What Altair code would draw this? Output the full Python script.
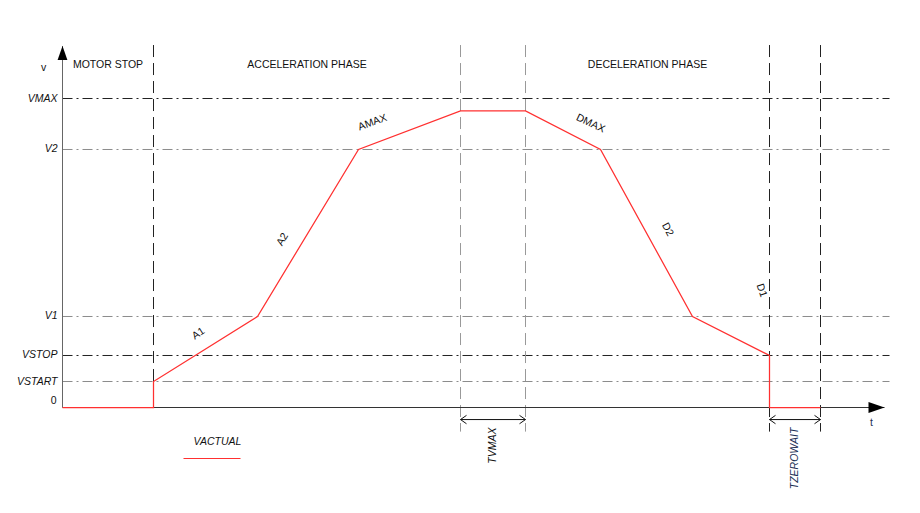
import altair as alt
import pandas as pd

# ---------------- data (time in arbitrary units, velocity in % of VMAX) -------------
level_names = ["VMAX", "V2", "V1", "VSTOP", "VSTART"]
level_values = [100.0, 83.5, 29.45, 16.83, 8.41]
level_colors = ["#222222", "#8c8c8c", "#8c8c8c", "#222222", "#8c8c8c"]

# phase boundaries (vertical dashed lines)
boundary_t = [9.1, 39.8, 46.3, 70.7, 75.8]
boundary_bottom = [0.0, -7.8, -7.8, -7.8, -7.8]
boundary_colors = ["#222222", "#999999", "#999999", "#222222", "#222222"]

# VACTUAL ramp
vactual_t = [0.0, 9.1, 9.1, 19.5, 29.6, 39.8, 46.3, 53.8, 63.0, 70.7, 70.7, 75.8]
vactual_v = [0.0, 0.0, 8.41, 29.45, 83.5, 96.0, 96.0, 83.5, 29.45, 16.83, 0.0, 0.0]

# segment names, their positions and slopes
seg_names = ["A1", "A2", "AMAX", "DMAX", "D2", "D1"]
seg_t = [13.6, 22.0, 31.0, 52.8, 60.5, 69.9]
seg_v = [23.9, 54.4, 92.2, 91.9, 57.6, 37.9]
seg_angle = [327, 300, 340, 25, 62, 72]

phase_names = ["MOTOR STOP", "ACCELERATION PHASE", "DECELERATION PHASE"]
phase_from = [0.0, 9.1, 46.3]
phase_to = [9.1, 39.8, 70.7]
phase_v = 110.7

axis_top = 117.0
axis_end = 82.2
grid_end = 82.7
vline_top = 117.3

span_names = ["TVMAX", "TZEROWAIT"]
span_from = [39.8, 70.7]
span_to = [46.3, 75.8]
span_colors = ["#111111", "#1b2f55"]
span_v = -3.9
span_label_v = -6.5

# ---------------- scales -------------------------------------------------------------
W, H = 904, 497
xs = alt.Scale(domain=[(8 - 62.5) / 10, (912 - 62.5) / 10], nice=False, zero=False)
ys = alt.Scale(domain=[(407.5 - 505) / 3.09, (407.5 - 8) / 3.09], nice=False, zero=False)
FONT = "Liberation Sans Narrow, Arial Narrow, Liberation Sans, Arial"
FS = 10.5


def X(f):
    return alt.X(f, type="quantitative", scale=xs, axis=None)


def Y(f):
    return alt.Y(f, type="quantitative", scale=ys, axis=None)


# ---------------- tables ---------------------------------------------------------------
levels = pd.DataFrame({"name": level_names, "v": level_values, "c": level_colors,
                       "t0": 0.0, "t1": grid_end})
bounds = pd.DataFrame({"t": boundary_t, "v0": vline_top, "v1": boundary_bottom,
                       "c": boundary_colors})
curve = pd.DataFrame({"t": vactual_t, "v": vactual_v, "i": range(len(vactual_t))})
segs = pd.DataFrame({"name": seg_names, "t": seg_t, "v": seg_v, "a": seg_angle})
phases = pd.DataFrame({"name": phase_names,
                       "t": [(a + b) / 2 for a, b in zip(phase_from, phase_to)],
                       "v": phase_v})
spans = pd.DataFrame({"name": span_names, "t0": span_from, "t1": span_to, "c": span_colors,
                      "tm": [(a + b) / 2 for a, b in zip(span_from, span_to)],
                      "v": span_v, "vl": span_label_v})

# ---------------- layers ---------------------------------------------------------------
hlines = alt.Chart(levels).mark_rule(strokeWidth=1, strokeDash=[10, 4, 2, 4]).encode(
    x=X("t0"), x2="t1", y=Y("v"), color=alt.Color("c:N", scale=None))

vlines = alt.Chart(bounds).mark_rule(strokeWidth=1, strokeDash=[12, 6]).encode(
    x=X("t"), y=Y("v0"), y2="v1", color=alt.Color("c:N", scale=None))

yaxis = alt.Chart(pd.DataFrame({"t": [0.0], "v0": [0.0], "v1": [axis_top]})).mark_rule(
    color="#666666", strokeWidth=1).encode(x=X("t"), y=Y("v0"), y2="v1")
xaxis = alt.Chart(pd.DataFrame({"t0": [0.0], "t1": [axis_end], "v": [0.0]})).mark_rule(
    color="#333333", strokeWidth=1).encode(x=X("t0"), x2="t1", y=Y("v"))

yarrow = alt.Chart(pd.DataFrame({"t": [0.0], "v": [axis_top]})).mark_point(
    shape="M0,0L0.7,2L-0.7,2Z", size=196, filled=True, color="#000000", opacity=1,
    strokeWidth=0).encode(x=X("t"), y=Y("v"))
xarrow = alt.Chart(pd.DataFrame({"t": [axis_end], "v": [0.0]})).mark_point(
    shape="M0,0L-2,-0.7L-2,0.7Z", size=256, filled=True, color="#000000", opacity=1,
    strokeWidth=0).encode(x=X("t"), y=Y("v"))

line = alt.Chart(curve).mark_line(color="#ff3030", strokeWidth=1.25).encode(
    x=X("t"), y=Y("v"), order="i:Q")

span_rule = alt.Chart(spans).mark_rule(color="#111111", strokeWidth=1).encode(
    x=X("t0"), x2="t1", y=Y("v"))
span_left = alt.Chart(spans).mark_point(
    shape="M2,-1.4L0,0L2,1.4", size=36, filled=False, color="#111111", opacity=1,
    strokeWidth=1).encode(x=X("t0"), y=Y("v"))
span_right = alt.Chart(spans).mark_point(
    shape="M-2,-1.4L0,0L-2,1.4", size=36, filled=False, color="#111111", opacity=1,
    strokeWidth=1).encode(x=X("t1"), y=Y("v"))
span_text = alt.Chart(spans).mark_text(
    font=FONT, fontSize=FS, fontStyle="italic", angle=270, align="right",
    baseline="middle").encode(x=X("tm"), y=Y("vl"), text="name:N",
                              color=alt.Color("c:N", scale=None))

level_text = alt.Chart(levels).mark_text(
    font=FONT, fontSize=FS, fontStyle="italic", align="right", baseline="middle",
    color="#111111", dx=-5).encode(x=X("t0"), y=Y("v"), text="name:N")
zero_text = alt.Chart(pd.DataFrame({"t": [0.0], "v": [0.0], "s": ["0"]})).mark_text(
    font=FONT, fontSize=FS, align="right", baseline="middle", color="#111111",
    dx=-6, dy=-7).encode(x=X("t"), y=Y("v"), text="s:N")

phase_text = alt.Chart(phases).mark_text(
    font=FONT, fontSize=FS, align="center", baseline="middle", color="#111111").encode(
    x=X("t"), y=Y("v"), text="name:N")

seg_text = alt.Chart(segs).mark_text(
    font=FONT, fontSize=FS, align="center", baseline="middle", color="#111111").encode(
    x=X("t"), y=Y("v"), text="name:N", angle=alt.Angle("a:Q", scale=None))

axis_names = alt.Chart(pd.DataFrame({"s": ["v", "t"], "t": [-1.9, 80.9],
                                     "v": [110.0, -5.0],
                                     "c": ["#111111", "#1b2f55"]})).mark_text(
    font=FONT, fontSize=10.5, align="center", baseline="middle").encode(
    x=X("t"), y=Y("v"), text="s:N", color=alt.Color("c:N", scale=None))

legend_text = alt.Chart(pd.DataFrame({"s": ["VACTUAL"], "t": [13.1], "v": [-11.3]})).mark_text(
    font=FONT, fontSize=FS, fontStyle="italic", align="left", baseline="middle",
    color="#111111").encode(x=X("t"), y=Y("v"), text="s:N")
legend_line = alt.Chart(pd.DataFrame({"t0": [12.1], "t1": [17.8], "v": [-16.5]})).mark_rule(
    color="#ff3030", strokeWidth=1.1).encode(x=X("t0"), x2="t1", y=Y("v"))

chart = alt.layer(
    hlines, vlines, xaxis, yaxis, yarrow, xarrow,
    span_rule, span_left, span_right, span_text,
    level_text, zero_text, phase_text, seg_text, axis_names, legend_text, legend_line,
    line,
).properties(
    width=W, height=H, padding=0, autosize=alt.AutoSizeParams(type="none"),
    background="#ffffff",
).configure_view(stroke=None)

chart.save("out.html", embed_options={"renderer": "svg", "actions": False})
